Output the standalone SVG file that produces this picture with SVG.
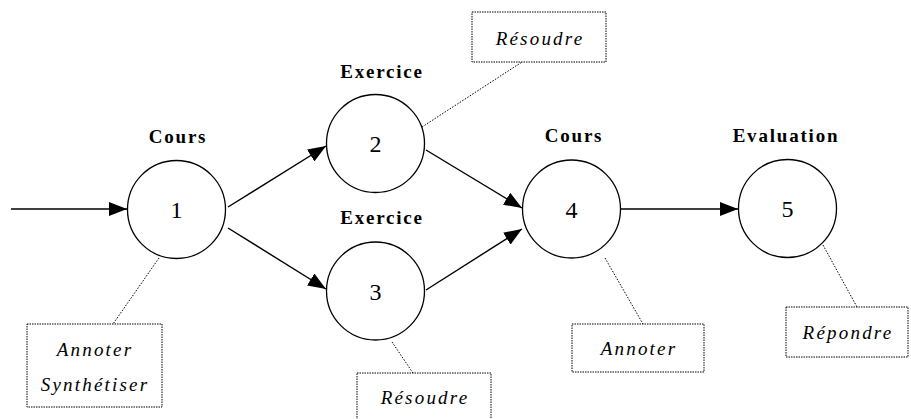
<svg xmlns="http://www.w3.org/2000/svg" width="911" height="419" viewBox="0 0 911 419">
<defs>
<marker id="ah" markerWidth="18" markerHeight="14" refX="18" refY="7" orient="auto" markerUnits="userSpaceOnUse">
<path d="M0,0 L18,7 L0,14 Z" fill="#000"/>
</marker>
<style>
.node circle{fill:#fff;stroke:#000;stroke-width:1.3}
text{font-family:'Liberation Serif','Times New Roman','DejaVu Serif',serif}
.num{font-size:24px;text-anchor:middle;fill:#000}
.title{font-size:19px;font-weight:bold;text-anchor:middle;fill:#000;letter-spacing:1.8px}
.edge{stroke:#000;stroke-width:1.4;fill:none;marker-end:url(#ah)}
.note rect{fill:#fff;stroke:#000;stroke-width:1;stroke-dasharray:1.5,1}
.note text{font-style:italic;font-size:19px;text-anchor:middle;fill:#000;letter-spacing:2.2px}
.link{stroke:#000;stroke-width:1;stroke-dasharray:1.5,1.5;fill:none}
</style>
</defs>
<rect width="911" height="419" fill="#fff"/>
<g id="connectors">
<line class="edge" x1="11" y1="209" x2="127" y2="209"/>
<line class="edge" x1="228" y1="207" x2="326" y2="146"/>
<line class="edge" x1="228" y1="228" x2="326" y2="289"/>
<line class="edge" x1="426" y1="150" x2="522" y2="208"/>
<line class="edge" x1="426" y1="290" x2="522" y2="229"/>
<line class="edge" x1="621" y1="209" x2="738" y2="209"/>
<line class="link" x1="159" y1="258" x2="113" y2="324"/>
<line class="link" x1="422" y1="127" x2="522" y2="62"/>
<line class="link" x1="392" y1="342" x2="413" y2="373"/>
<line class="link" x1="605" y1="258" x2="643" y2="324"/>
<line class="link" x1="823" y1="245" x2="857" y2="307"/>
</g>
<g id="node1" class="node">
<text class="title" x="178" y="143">Cours</text>
<circle cx="176.5" cy="209.5" r="49"/>
<text class="num" x="176.5" y="218">1</text>
</g>
<g id="node2" class="node">
<text class="title" x="382" y="78">Exercice</text>
<circle cx="375.5" cy="143.5" r="49"/>
<text class="num" x="375.5" y="152">2</text>
</g>
<g id="node3" class="node">
<text class="title" x="382" y="224">Exercice</text>
<circle cx="375.5" cy="291" r="49"/>
<text class="num" x="375.5" y="300">3</text>
</g>
<g id="node4" class="node">
<text class="title" x="574" y="142">Cours</text>
<circle cx="571.5" cy="209" r="49"/>
<text class="num" x="571.5" y="218">4</text>
</g>
<g id="node5" class="node">
<text class="title" x="786" y="142">Evaluation</text>
<circle cx="787.5" cy="208.5" r="49"/>
<text class="num" x="787.5" y="217">5</text>
</g>
<g id="note1" class="note">
<rect x="27" y="324" width="135" height="83"/>
<text x="95" y="356">Annoter</text>
<text x="95" y="391">Synthétiser</text>
</g>
<g id="note2" class="note">
<rect x="472" y="12" width="134" height="50"/>
<text x="540" y="45">Résoudre</text>
</g>
<g id="note3" class="note">
<rect x="357" y="373" width="134" height="52"/>
<text x="425" y="404">Résoudre</text>
</g>
<g id="note4" class="note">
<rect x="572" y="324" width="132" height="48"/>
<text x="639" y="355">Annoter</text>
</g>
<g id="note5" class="note">
<rect x="786" y="307" width="122" height="50"/>
<text x="848" y="339">Répondre</text>
</g>
</svg>
